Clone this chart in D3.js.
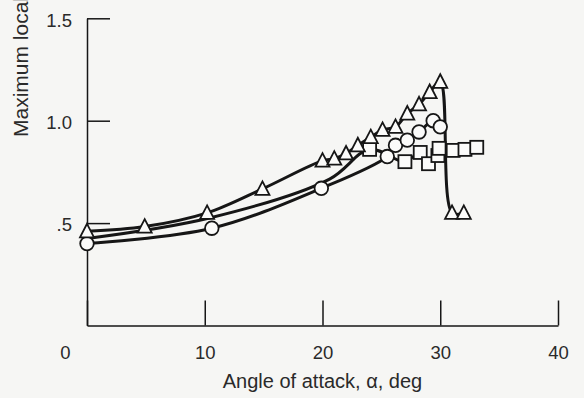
<!DOCTYPE html>
<html>
<head>
<meta charset="utf-8">
<script src="https://cdn.jsdelivr.net/npm/d3@7"></script>
<style>
  html, body { margin: 0; padding: 0; background: #f6f6f4; }
  svg { display: block; }
  text { font-family: "Liberation Sans", Arial, Helvetica, sans-serif; fill: #2a2a2a; }
</style>
</head>
<body>
<div id="plot-container"></div>
<script>
// ##################################
//  DATA
// ##################################

// [angle of attack (deg), maximum local value]
const triangles = [
  [0, 0.46], [4.9, 0.483], [10.2, 0.55], [14.9, 0.667], [20, 0.805],
  [21, 0.815], [22, 0.84], [23, 0.88], [24.1, 0.92], [25.1, 0.955],
  [26.2, 0.97], [27.2, 1.035], [28.2, 1.08], [29.1, 1.14], [30, 1.19],
  [31, 0.55], [32, 0.55],
]

const circles = [
  [0, 0.4], [10.6, 0.475], [19.9, 0.67], [25.5, 0.825], [26.2, 0.88],
  [27.2, 0.905], [28.2, 0.945], [29.4, 1.0], [30, 0.97],
]

const squares = [
  [24, 0.86], [27, 0.8], [28.3, 0.845], [29, 0.79], [29.8, 0.83],
  [29.9, 0.865], [31.1, 0.855], [32.1, 0.86], [33.1, 0.87],
]

// faired curve of the square series before its first symbol
const squareFairing = [[0, 0.425], [10.4, 0.525], [20.6, 0.715]]

const xTicks = [0, 10, 20, 30, 40]
const yTicks = [0.5, 1.0, 1.5]
const yTickLabels = [".5", "1.0", "1.5"]
const xTitle = "Angle of attack, \u03b1, deg"
const yTitle = "Maximum local Mach number"

// ##################################
//  CONSTANTS
// ##################################

const width = 584
const height = 398
const ink = "#161616"

const container = d3.select("div#plot-container")

const x = d3.scaleLinear().domain([0, 40]).range([87, 558])
const y = d3.scaleLinear().domain([0, 1.5]).range([325.5, 18.3])

const svg = container
  .append("svg")
  .attr("width", width)
  .attr("height", height)
  .attr("viewBox", [0, 0, width, height])

// ##################################
//  AXES
// ##################################

const xAxis = (g) =>
  g
    .attr("transform", `translate(0, ${y(0)})`)
    .call(
      d3
        .axisBottom(x)
        .tickValues(xTicks)
        .tickSizeInner(-25)
        .tickSizeOuter(0)
        .tickPadding(20)
    )
    .call((g) => g.select(".domain").attr("stroke", ink).attr("stroke-width", 1.5))
    .call((g) => g.selectAll(".tick line").attr("stroke", ink).attr("stroke-width", 1.5))
    .call((g) =>
      g
        .selectAll(".tick text")
        .attr("font-size", 18.5)
        .attr("fill", "#2a2a2a")
        .attr("font-family", null)
        // the "0" sits left of the corner in the original
        .attr("x", (d) => (d === 0 ? -22 : 0))
    )

const yAxis = (g) =>
  g
    .attr("transform", `translate(${x(0)}, 0)`)
    .call(
      d3
        .axisLeft(y)
        .tickValues(yTicks)
        .tickFormat((d, i) => yTickLabels[i])
        .tickSizeInner(-23)
        .tickSizeOuter(0)
        .tickPadding(15)
    )
    .call((g) => g.select(".domain").attr("stroke", ink).attr("stroke-width", 1.5))
    .call((g) => g.selectAll(".tick line").attr("stroke", ink).attr("stroke-width", 1.5))
    .call((g) =>
      g
        .selectAll(".tick text")
        .attr("font-size", 18.5)
        .attr("fill", "#2a2a2a")
        .attr("font-family", null)
        .attr("dy", "0.42em")
    )

svg.append("g").call(xAxis)
svg.append("g").call(yAxis)

svg
  .append("text")
  .attr("x", (x(0) + x(40)) / 2)
  .attr("y", 388)
  .attr("text-anchor", "middle")
  .attr("font-size", 20)
  .text(xTitle)

// runs off the top edge, as in the scan
svg
  .append("text")
  .attr("transform", "translate(28, 137) rotate(-90)")
  .attr("text-anchor", "start")
  .attr("font-size", 21)
  .text(yTitle)

// ##################################
//  FAIRED CURVES
// ##################################

const line = d3
  .line()
  .x((d) => x(d[0]))
  .y((d) => y(d[1]))
  .curve(d3.curveCatmullRom.alpha(0.5))

const curves = [triangles, circles, squareFairing.concat(squares)]

svg
  .append("g")
  .attr("fill", "none")
  .attr("stroke", ink)
  .attr("stroke-width", 3)
  .attr("stroke-linejoin", "round")
  .selectAll("path")
  .data(curves)
  .join("path")
  .attr("d", line)

// ##################################
//  SYMBOLS
// ##################################

const symbols = svg
  .append("g")
  .attr("fill", "#fbfbfa")
  .attr("stroke", ink)
  .attr("stroke-width", 1.8)

symbols
  .append("g")
  .selectAll("rect")
  .data(squares)
  .join("rect")
  .attr("x", (d) => x(d[0]) - 6.5)
  .attr("y", (d) => y(d[1]) - 6.5)
  .attr("width", 13)
  .attr("height", 13)

symbols
  .append("g")
  .selectAll("circle")
  .data(circles)
  .join("circle")
  .attr("cx", (d) => x(d[0]))
  .attr("cy", (d) => y(d[1]))
  .attr("r", 6.8)

symbols
  .append("g")
  .selectAll("path")
  .data(triangles)
  .join("path")
  .attr("transform", (d) => `translate(${x(d[0])}, ${y(d[1])})`)
  .attr("d", "M0,-7.5L7,6L-7,6Z")
</script>
</body>
</html>
